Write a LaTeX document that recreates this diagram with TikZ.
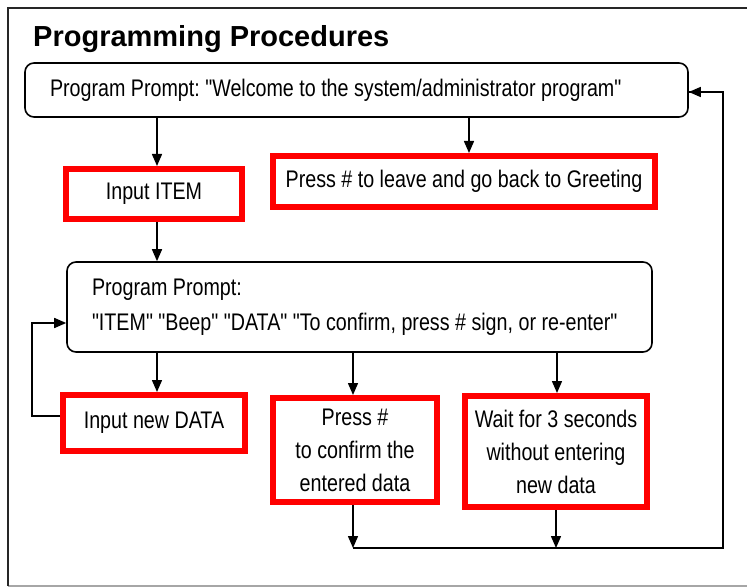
\documentclass[tikz,border=0pt]{standalone}
\usepackage{fontspec}
\setmainfont{Liberation Sans}
\newfontfamily\narrowfont[FakeStretch=0.82]{Liberation Sans}
\usetikzlibrary{arrows.meta,calc}
\frenchspacing
\tikzset{
  arr/.style={line width=1.5pt,-{Triangle[width=10pt,length=12pt]}},
  conn/.style={line width=1.5pt},
  roundbox/.style={draw,line width=1.6pt,rounded corners=9pt,inner xsep=25pt,inner ysep=0pt,align=flush left,font=\narrowfont\fontsize{24}{35}\selectfont},
  redbox/.style={draw=red,line width=6pt,inner sep=0pt,align=center,font=\narrowfont\fontsize{24}{33}\selectfont},
}
\begin{document}
\begin{tikzpicture}[x=1pt,y=-1pt]
\useasboundingbox (0,0) rectangle (747,588);
% outer frame
\draw[gray!70,line width=1.5pt] (8,586) -- (747,586);
\draw[black!85,line width=1.8pt] (8,586) -- (8,8) -- (747,8);
% title
\node[anchor=base west,inner sep=0pt,font=\bfseries\fontsize{29}{34}\selectfont] (title) at (33,47) {Programming Procedures};
% boxes
\node[roundbox,minimum width=663pt,minimum height=54pt,text width=613pt] (box1) at (356.5,90) {Program Prompt: "Welcome to the system/administrator program"};
\node[redbox,minimum width=176pt,minimum height=50pt] (item) at (154,194) {Input ITEM};
\node[redbox,minimum width=382pt,minimum height=51pt] (leave) at (464,181.5) {Press \# to leave and go back to Greeting};
\node[roundbox,minimum width=583pt,minimum height=90pt,text width=535pt] (box2) at (359.5,307) {Program Prompt:\\"ITEM" "Beep" "DATA" "To confirm, press \# sign, or re-enter"};
\node[redbox,minimum width=182pt,minimum height=56pt] (newdata) at (154,423) {Input new DATA};
\node[redbox,minimum width=164pt,minimum height=104pt] (press) at (355,450) {Press \#\\ to confirm the\\entered data};
\node[redbox,minimum width=182pt,minimum height=111pt] (wait) at (556,451.5) {Wait for 3 seconds\\without entering\\new data};
% connectors
\coordinate (j1) at (353,548);
\coordinate (rc) at (723,548);
\coordinate (lp) at (32,323);
\draw[arr] ($(item.north |- box1.south)+(3,0)$) -- ($(item.north)+(3,0)$);
\draw[arr] ($(leave.north |- box1.south)+(5,0)$) -- ($(leave.north)+(5,0)$);
\draw[arr] ($(item.south)+(3,0)$) -- ($(item.south |- box2.north)+(3,0)$);
\draw[arr] ($(newdata.north |- box2.south)+(3,0)$) -- ($(newdata.north)+(3,0)$);
\draw[arr] ($(press.north |- box2.south)+(-2,0)$) -- ($(press.north)+(-2,0)$);
\draw[arr] ($(wait.north |- box2.south)+(1,0)$) -- ($(wait.north)+(1,0)$);
\draw[arr] ($(newdata.west)+(0,-7)$) -| (lp) -- (lp -| box2.west);
\draw[arr] ($(press.south)+(-2,0)$) -- (j1);
\draw[arr] (wait.south) -- (wait.south |- j1);
\draw[conn] (j1) -- (rc) |- ($(box1.east)+(0,2)$);
\draw[arr] ($(rc |- box1.east)+(0,2)$) -- ($(box1.east)+(0,2)$);
\end{tikzpicture}
\end{document}
